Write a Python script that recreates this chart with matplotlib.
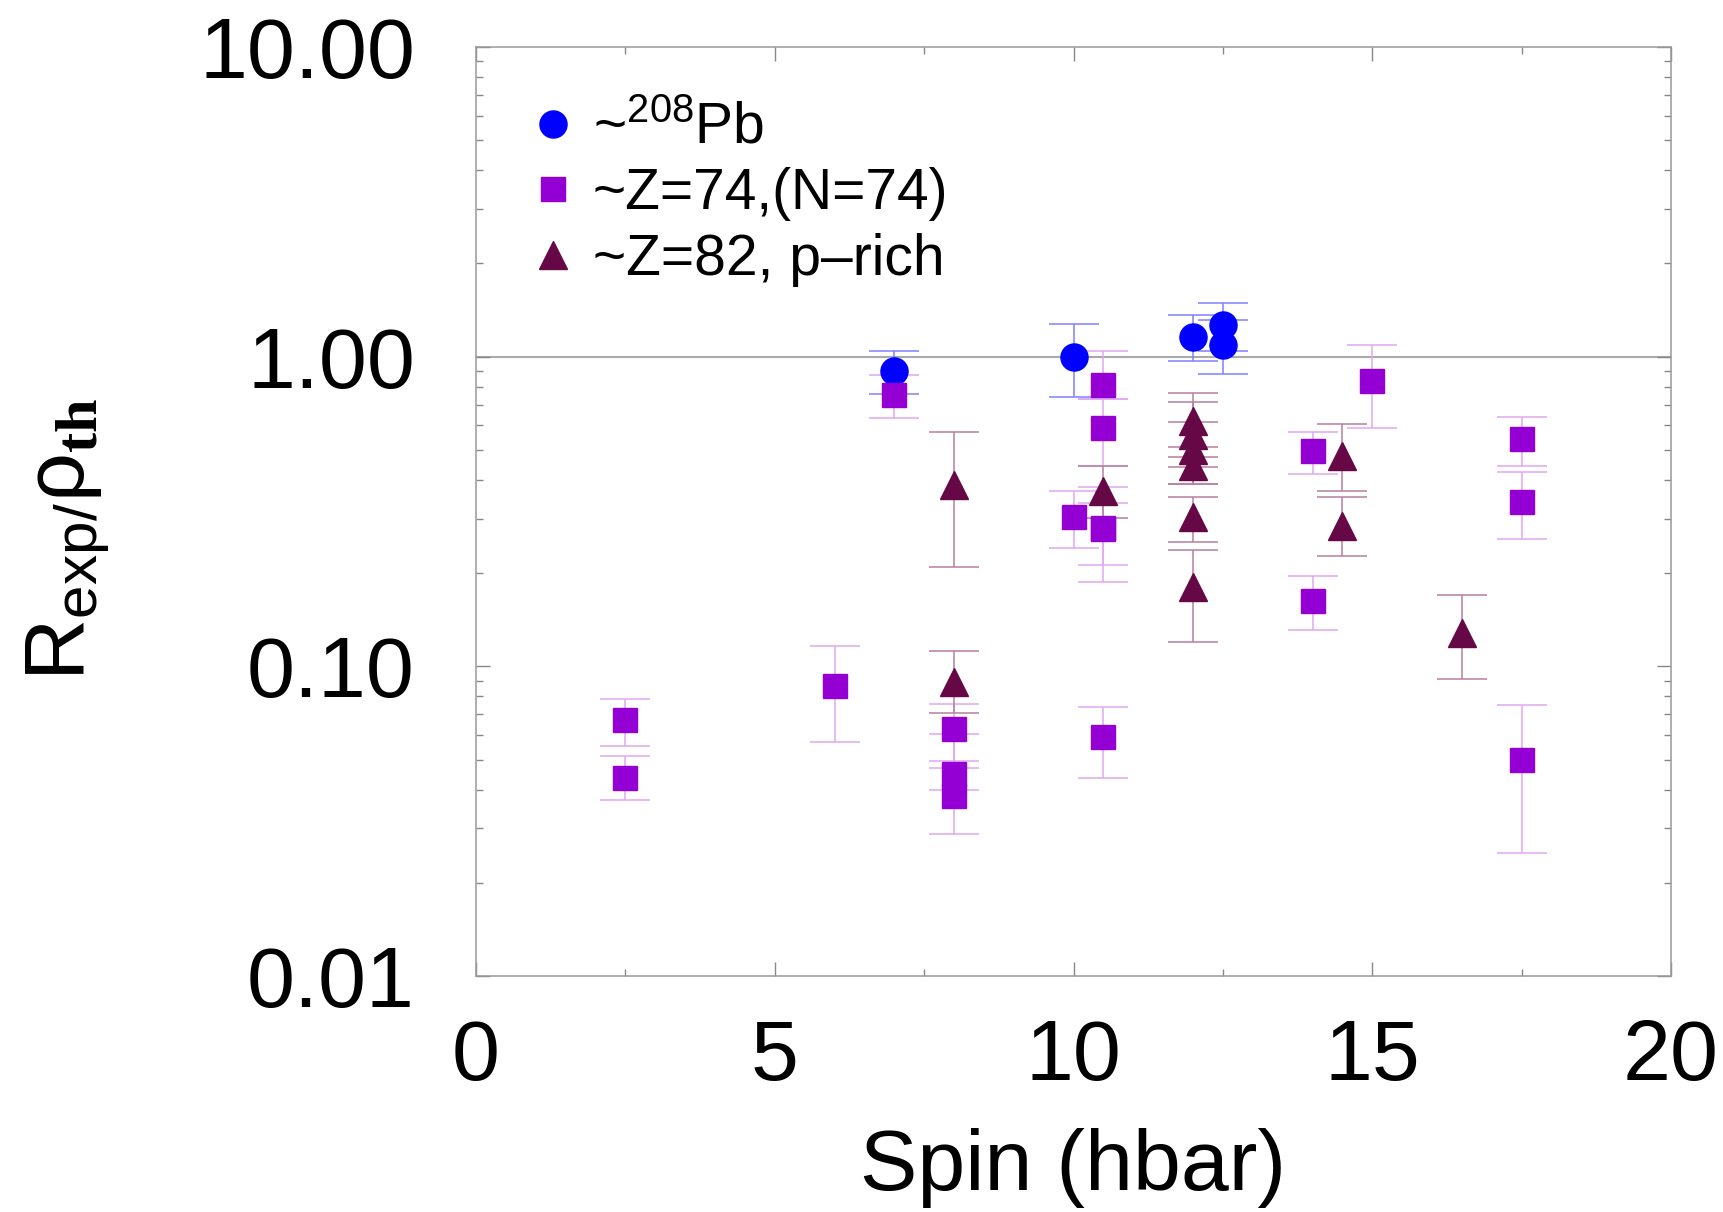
import numpy as np
import matplotlib
matplotlib.use('Agg')
import matplotlib.pyplot as plt

plt.rcParams['font.family'] = ['Liberation Sans', 'DejaVu Sans']
plt.rcParams['mathtext.fontset'] = 'custom'
plt.rcParams['mathtext.rm'] = 'Liberation Sans'
plt.rcParams['mathtext.it'] = 'Liberation Sans'
plt.rcParams['mathtext.bf'] = 'Liberation Serif:bold'

# ~208Pb
pb_spin = [7.0, 10.0, 12.0, 12.5, 12.5]
pb_r = [0.90, 1.00, 1.16, 1.27, 1.09]
pb_lo = [0.76, 0.74, 0.97, 1.04, 0.877]
pb_hi = [1.04, 1.275, 1.366, 1.486, 1.31]

# ~Z=74,(N=74)
w_spin = [2.5, 2.5, 6.0, 7.0, 8.0, 8.0, 8.0, 10.0, 10.5, 10.5, 10.5, 10.5,
          10.5, 14.0, 14.0, 15.0, 17.5, 17.5, 17.5]
w_r = [0.067, 0.0437, 0.0863, 0.752, 0.0627, 0.0449, 0.038, 0.303, 0.812,
       0.589, 0.278, 0.28, 0.0592, 0.495, 0.163, 0.835, 0.542, 0.339, 0.0498]
w_lo = [0.0555, 0.0369, 0.0569, 0.633, 0.0495, 0.040, 0.0288, 0.242, 0.730,
        0.445, 0.187, 0.213, 0.0436, 0.417, 0.131, 0.589, 0.442, 0.257, 0.0249]
w_hi = [0.0786, 0.0513, 0.1167, 0.875, 0.0758, 0.0606, 0.047, 0.367, 1.04,
        0.730, 0.379, 0.337, 0.0740, 0.571, 0.196, 1.088, 0.641, 0.424, 0.075]

# ~Z=82, p-rich
p_spin = [8.0, 8.0, 10.5, 12.0, 12.0, 12.0, 12.0, 12.0, 12.0, 14.5, 14.5,
          16.5]
p_r = [0.386, 0.0892, 0.369, 0.62, 0.56, 0.50, 0.445, 0.303, 0.180, 0.479,
       0.285, 0.128]
p_lo = [0.210, 0.0708, 0.301, 0.476, 0.441, 0.388, 0.388, 0.253, 0.120,
        0.367, 0.228, 0.091]
p_hi = [0.571, 0.1121, 0.445, 0.762, 0.716, 0.614, 0.510, 0.351, 0.238,
        0.605, 0.352, 0.170]

xticks = [0, 5, 10, 15, 20]
yticks = [0.01, 0.1, 1.0, 10.0]
yticklabels = ['0.01', '0.10', '1.00', '10.00']

fig = plt.figure(figsize=(17.24, 12.12), dpi=100)
ax = fig.add_axes([0.2761, 0.1947, 0.6932, 0.7665])

ax.axhline(1.0, color='#aaaaaa', lw=1.5, zorder=1)


def serie(x, y, lo, hi, mk, cor, corerr, ms, rotulo):
    y = np.array(y)
    err = np.vstack([y - np.array(lo), np.array(hi) - y])
    ax.errorbar(x, y, yerr=err, fmt='none', ecolor=corerr, elinewidth=1.1,
                capsize=18, capthick=1.1, zorder=2)
    ax.plot(x, y, mk, color=cor, ms=ms, ls='none', label=rotulo, zorder=3)


serie(pb_spin, pb_r, pb_lo, pb_hi, 'o', '#0000ff', '#8080ff', 19.5,
      r'~$^{208}$Pb')
serie(w_spin, w_r, w_lo, w_hi, 's', '#9400d3', '#e0a8f2', 17.5,
      '~Z=74,(N=74)')
serie(p_spin, p_r, p_lo, p_hi, '^', '#660845', '#b8809c', 20.5,
      '~Z=82, p\u2013rich')

ax.set_yscale('log')
ax.set_xlim(0, 20)
ax.set_ylim(0.01, 10)
ax.set_xticks(xticks)
ax.set_xticks(np.arange(0, 20.1, 2.5), minor=True)
ax.set_yticks(yticks)
ax.set_yticklabels(yticklabels)
ax.yaxis.set_minor_locator(matplotlib.ticker.LogLocator(subs=np.arange(2, 10)))
ax.yaxis.set_minor_formatter(matplotlib.ticker.NullFormatter())

ax.tick_params(which='both', direction='in', top=True, right=True,
               color='#888888', width=1.0)
ax.tick_params(which='major', length=10)
ax.tick_params(which='minor', length=5)
ax.tick_params(axis='x', which='major', labelsize=62, pad=30)
ax.tick_params(axis='y', which='major', labelsize=62, pad=44)
for s in ax.spines.values():
    s.set_color('#999999')
    s.set_linewidth(1.1)

ax.set_xlabel('Spin (hbar)', fontsize=62, labelpad=22)
ax.set_ylabel(r'$\mathrm{R}_{\mathrm{exp/}}\rho_{\mathbf{th}}$', fontsize=62)
ax.yaxis.set_label_coords(-0.305, 0.47)

ax.legend(loc='upper left', bbox_to_anchor=(0.05, 0.941), frameon=False,
          fontsize=41, numpoints=1, handlelength=0.6, handletextpad=0.4,
          labelspacing=0.2, borderpad=0, borderaxespad=0)

fig.savefig('out.png', dpi=100)
